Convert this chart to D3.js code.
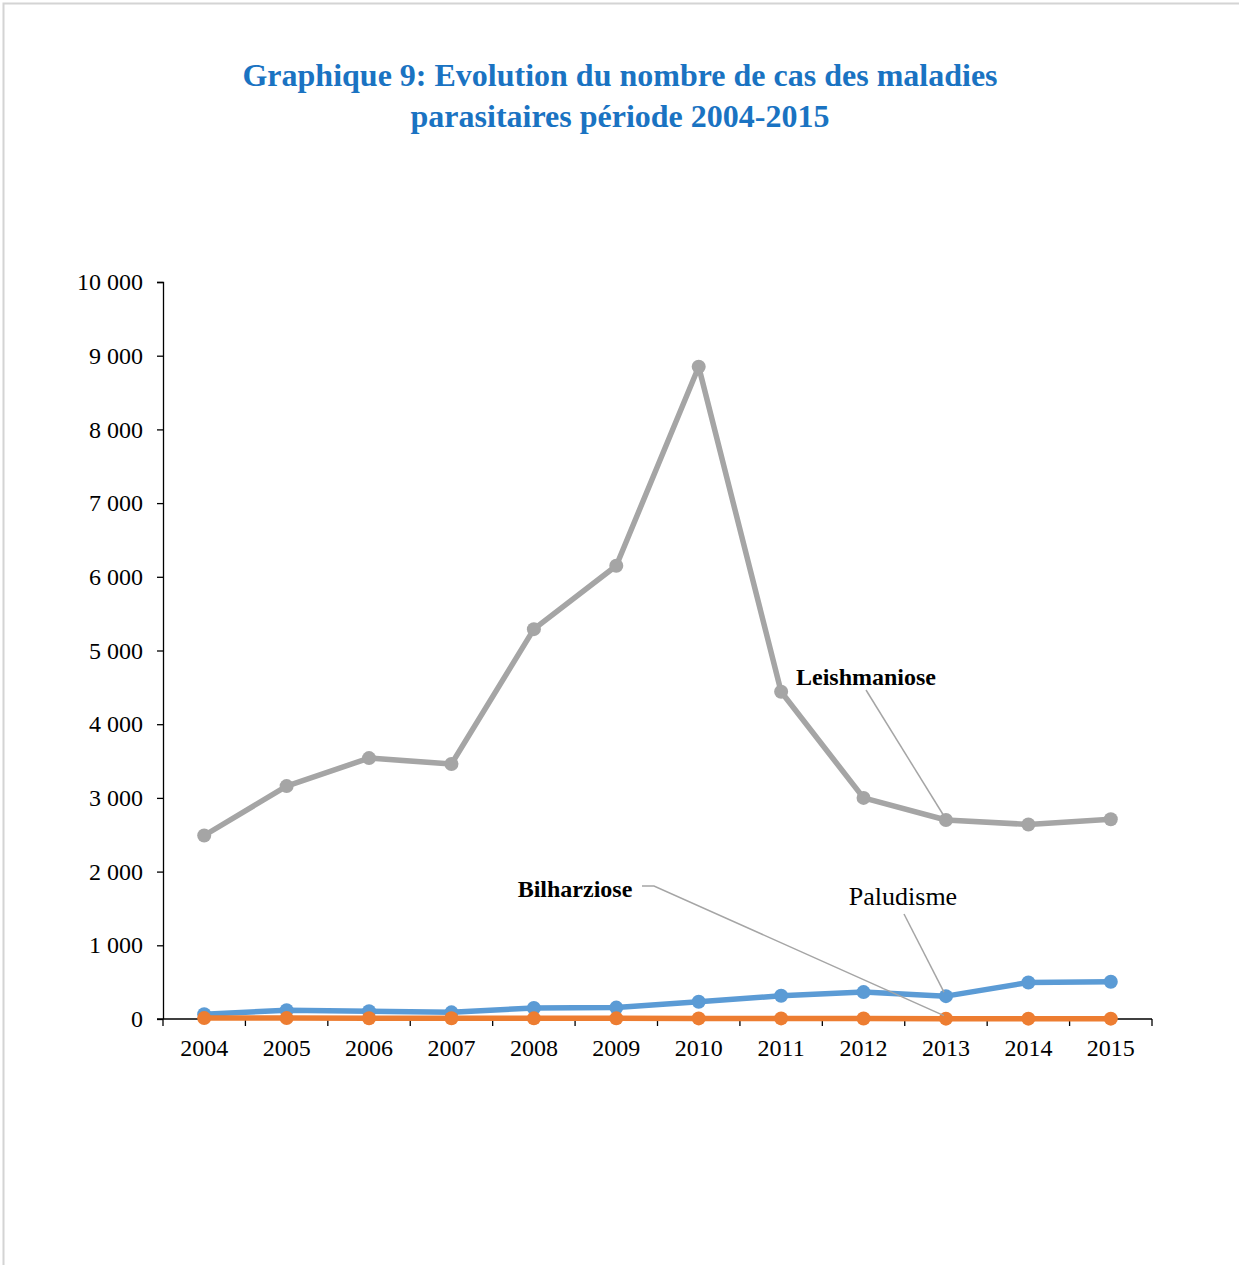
<!DOCTYPE html>
<html>
<head>
<meta charset="utf-8">
<script src="https://cdn.jsdelivr.net/npm/d3@7"></script>
<style>
  body { margin: 0; background: #fff; }
  svg text { font-family: "Liberation Serif", "Times New Roman", serif; }
</style>
</head>
<body>
<div id="chart"></div>
<script>
// Data
var years = ["2004", "2005", "2006", "2007", "2008", "2009", "2010", "2011", "2012", "2013", "2014", "2015"];
var leishmaniose = [2490, 3160, 3540, 3460, 5290, 6150, 8850, 4440, 3000, 2700, 2640, 2710];
var paludisme = [65, 120, 105, 90, 150, 155, 235, 315, 365, 310, 495, 505];
var bilharziose = [12, 12, 10, 10, 9, 9, 8, 8, 6, 5, 5, 5];
var yTicks = [0, 1000, 2000, 3000, 4000, 5000, 6000, 7000, 8000, 9000, 10000];

var svgWidth = 1239;
var svgHeight = 1265;

// plot area
var chartMargin = { top: 282, left: 163, right: 1239 - 1152, bottom: 1265 - 1019 };
var chartWidth = svgWidth - chartMargin.left - chartMargin.right;
var chartHeight = svgHeight - chartMargin.top - chartMargin.bottom;

var svg = d3.select("#chart")
  .append("svg")
  .attr("width", svgWidth)
  .attr("height", svgHeight);

// page frame
svg.append("path")
  .attr("d", "M3.5,1265 L3.5,3.5 L1239,3.5")
  .attr("fill", "none")
  .attr("stroke", "#d4d4d4")
  .attr("stroke-width", 2);

// title
var title = svg.append("text")
  .attr("text-anchor", "middle")
  .attr("fill", "#1a73c2")
  .attr("font-weight", 700)
  .attr("font-size", "32px");
title.append("tspan").attr("x", 620).attr("y", 86).text("Graphique 9: Evolution du nombre de cas des maladies");
title.append("tspan").attr("x", 620).attr("y", 127).text("parasitaires période 2004-2015");

var chartGroup = svg.append("g")
  .attr("transform", `translate(${chartMargin.left}, ${chartMargin.top})`);

var xBand = d3.scaleBand()
  .domain(years)
  .range([0, chartWidth]);

var yLinearScale = d3.scaleLinear()
  .domain([0, 10000])
  .range([chartHeight, 0]);

var fmt = function(d) { return d3.format(",")(d).replace(/,/g, " "); };

// y axis
var leftAxis = d3.axisLeft(yLinearScale)
  .tickValues(yTicks)
  .tickSize(6)
  .tickPadding(14)
  .tickFormat(fmt);

var yAxisG = chartGroup.append("g").call(leftAxis);
yAxisG.select(".domain").attr("stroke", "#000").attr("stroke-width", 1.3).attr("d", `M-6,0.5H0.5V${chartHeight}`);
yAxisG.selectAll(".tick line").attr("stroke", "#000").attr("stroke-width", 1.3);
yAxisG.selectAll("text").attr("font-size", "24px").attr("fill", "#000")
  .attr("font-family", "Liberation Serif, serif");

// x axis with ticks between categories
var xAxisG = chartGroup.append("g")
  .attr("transform", `translate(0, ${chartHeight})`);
xAxisG.append("line")
  .attr("x1", -6).attr("x2", chartWidth)
  .attr("stroke", "#000").attr("stroke-width", 1.5);
xAxisG.selectAll(".xtick")
  .data(years.concat(["end"]))
  .enter()
  .append("line")
  .attr("x1", (d, i) => i * xBand.step())
  .attr("x2", (d, i) => i * xBand.step())
  .attr("y1", 0).attr("y2", 7)
  .attr("stroke", "#000").attr("stroke-width", 1.3);
xAxisG.selectAll(".xlabel")
  .data(years)
  .enter()
  .append("text")
  .attr("x", d => xBand(d) + xBand.bandwidth() / 2)
  .attr("y", 37)
  .attr("text-anchor", "middle")
  .attr("font-size", "24px")
  .text(d => d);

var xCenter = d => xBand(d) + xBand.bandwidth() / 2;

var series = [
  { name: "Leishmaniose", values: leishmaniose, color: "#a5a5a5" },
  { name: "Paludisme", values: paludisme, color: "#5b9bd5" },
  { name: "Bilharziose", values: bilharziose, color: "#ed7d31" }
];

var line = d3.line()
  .x((d, i) => xCenter(years[i]))
  .y(d => yLinearScale(d));

series.forEach(function(s) {
  chartGroup.append("path")
    .datum(s.values)
    .attr("d", line)
    .attr("fill", "none")
    .attr("stroke", s.color)
    .attr("stroke-width", 5.5)
    .attr("stroke-linejoin", "round");

  chartGroup.selectAll(null)
    .data(s.values)
    .enter()
    .append("circle")
    .attr("cx", (d, i) => xCenter(years[i]))
    .attr("cy", d => yLinearScale(d))
    .attr("r", 7)
    .attr("fill", s.color);
});

// data labels with leader lines
var i2013 = years.indexOf("2013");
var x2013 = xCenter("2013");

function leader(points) {
  chartGroup.append("polyline")
    .attr("points", points.map(p => p.join(",")).join(" "))
    .attr("fill", "none")
    .attr("stroke", "#a5a5a5")
    .attr("stroke-width", 1.5);
}

leader([[866 - 163, 690 - 282], [x2013 - 2, yLinearScale(leishmaniose[i2013]) - 4]]);
chartGroup.append("text")
  .attr("x", 866 - 163).attr("y", 685 - 282)
  .attr("text-anchor", "middle")
  .attr("font-weight", 700)
  .attr("font-size", "24px")
  .text("Leishmaniose");

leader([[642 - 163, 886 - 282], [654 - 163, 886 - 282], [x2013 - 2, yLinearScale(bilharziose[i2013]) - 3]]);
chartGroup.append("text")
  .attr("x", 575 - 163).attr("y", 897 - 282)
  .attr("text-anchor", "middle")
  .attr("font-weight", 700)
  .attr("font-size", "24px")
  .text("Bilharziose");

leader([[904 - 163, 914 - 282], [x2013 - 2, yLinearScale(paludisme[i2013]) - 4]]);
chartGroup.append("text")
  .attr("x", 903 - 163).attr("y", 905 - 282)
  .attr("text-anchor", "middle")
  .attr("font-size", "26px")
  .text("Paludisme");
</script>
</body>
</html>
